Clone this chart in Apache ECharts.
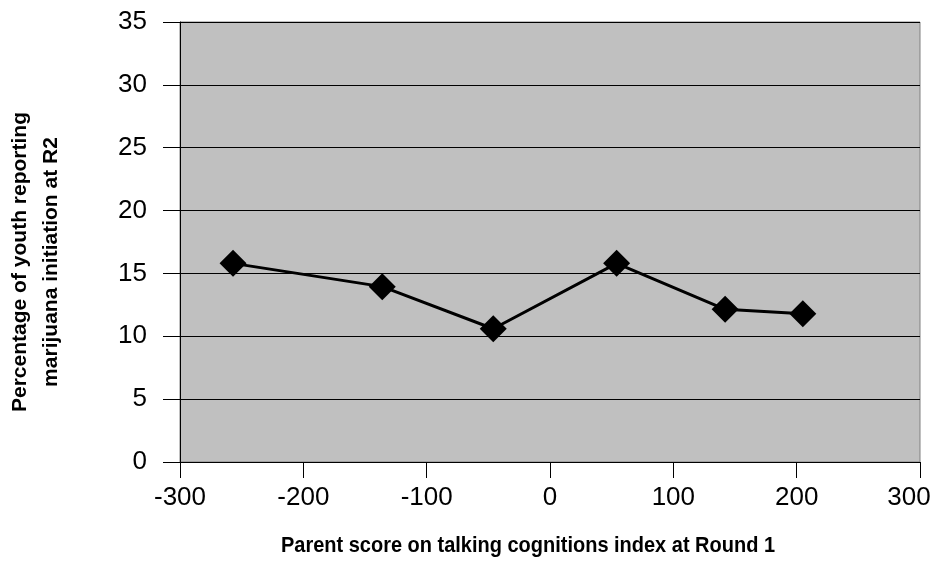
<!DOCTYPE html>
<html><head><meta charset="utf-8">
<script src="https://cdn.jsdelivr.net/npm/echarts@6/dist/echarts.min.js"></script>
<style>html,body{margin:0;padding:0;background:#fff}#c{width:933px;height:562px}</style>
</head><body><div id="c"></div>
<script>
var xValues = [-257, -136, -46, 54, 142, 205];
var yValues = [15.8, 13.95, 10.6, 15.8, 12.15, 11.8];
var xTitle = 'Parent score on talking cognitions index at Round 1';
var yTitle = ['Percentage of youth reporting', 'marijuana initiation at R2'];

var labelFamily = '"Liberation Sans", Arial, sans-serif';
var titleFont = 'bold 22px "Liberation Sans", Arial, sans-serif';
var yTitleFont = 'bold 21px "Liberation Sans", Arial, sans-serif';
function measure(text, font) {
  var ctx = document.createElement('canvas').getContext('2d');
  ctx.font = font;
  return ctx.measureText(text).width;
}
var xScale = 494 / measure(xTitle, titleFont);
var yScale = 300 / measure(yTitle[0], yTitleFont);

var chart = echarts.init(document.getElementById('c'));
chart.setOption({
  animation: false,
  grid: {left: 180, top: 22, width: 740, height: 440, show: true, backgroundColor: '#c0c0c0', borderColor: '#808080', borderWidth: 1, outerBoundsMode: 'none', containLabel: false},
  xAxis: {
    type: 'value', min: -300, max: 300, interval: 100,
    axisLine: {show: true, onZero: false, lineStyle: {color: '#000', width: 1}},
    axisTick: {show: true, inside: false, length: 16, lineStyle: {color: '#000'}},
    axisLabel: {
      color: '#000', fontSize: 26, fontFamily: labelFamily, margin: 23, showMinLabel: true, showMaxLabel: true,
      formatter: function (v) { return v === 300 ? '{m|' + v + '}' : String(v); },
      rich: {m: {color: '#000', fontSize: 26, fontFamily: labelFamily, padding: [0, 22, 0, 0]}}
    },
    splitLine: {show: false}
  },
  yAxis: {
    type: 'value', min: 0, max: 35, interval: 5,
    axisLine: {show: true, onZero: false, lineStyle: {color: '#000', width: 1}},
    axisTick: {show: true, inside: false, length: 17, lineStyle: {color: '#000'}},
    axisLabel: {color: '#000', fontSize: 26, fontFamily: labelFamily, margin: 33, padding: [0, 0, 10, 0]},
    splitLine: {show: true, lineStyle: {color: '#000', width: 1}}
  },
  graphic: [
    {type: 'text', x: 528, y: 546, scaleX: xScale, style: {text: xTitle, align: 'center', verticalAlign: 'middle', font: titleFont, fill: '#000'}},
    {type: 'text', rotation: Math.PI / 2, x: 36, y: 262, scaleX: yScale, style: {text: yTitle.join('\n'), align: 'center', verticalAlign: 'middle', font: yTitleFont, fill: '#000', lineHeight: 31}}
  ],
  series: [{
    type: 'line',
    data: xValues.map(function (x, i) { return [x, yValues[i]]; }),
    symbol: 'diamond', symbolSize: 27,
    lineStyle: {color: '#000', width: 3},
    itemStyle: {color: '#000'}
  }]
});
</script></body></html>
